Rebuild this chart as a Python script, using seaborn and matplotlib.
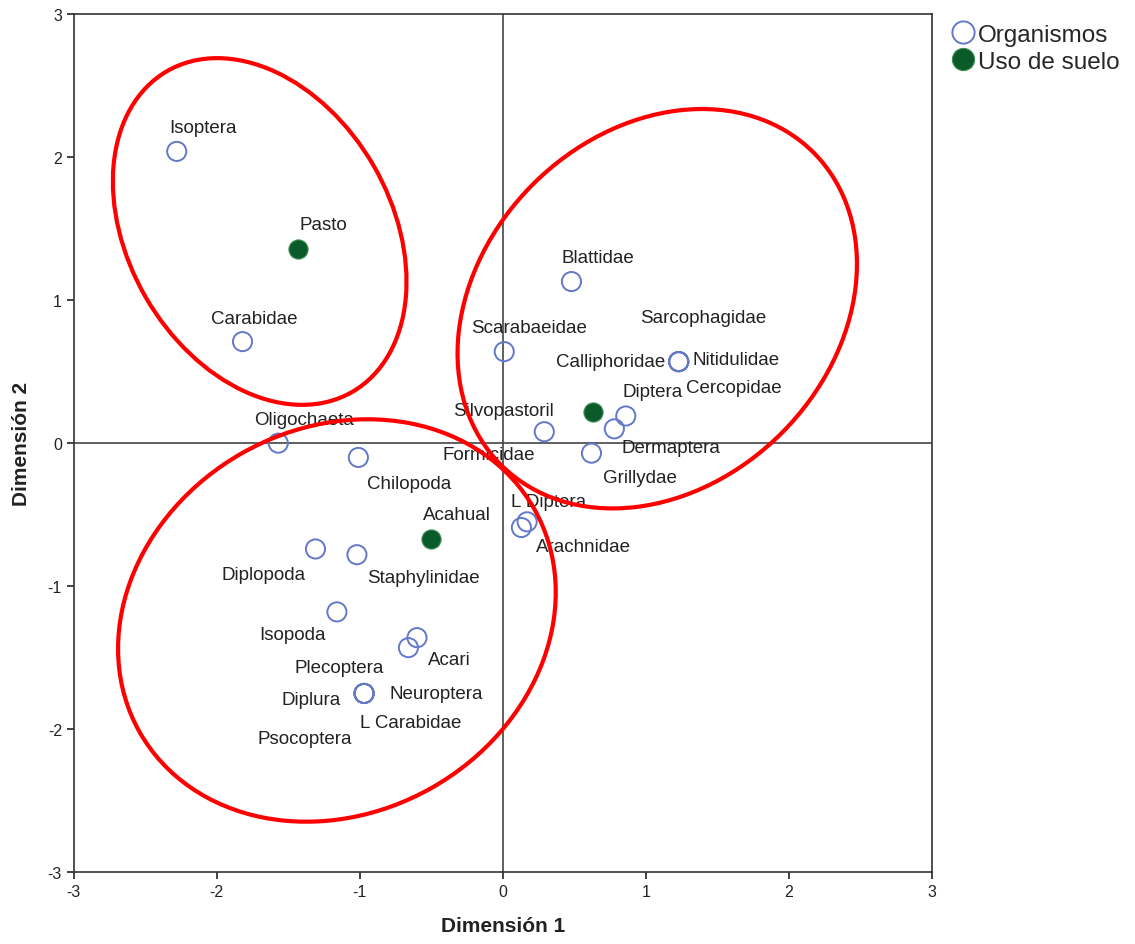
import pandas as pd
import seaborn as sns
import matplotlib.pyplot as plt
from matplotlib.patches import Ellipse
from matplotlib.lines import Line2D

org_names = ['Isoptera', 'Carabidae', 'Oligochaeta', 'Chilopoda', 'Diplopoda', 'Staphylinidae',
             'Isopoda', 'Acari', 'Plecoptera', 'Diplura', 'Neuroptera', 'L Carabidae', 'Psocoptera',
             'Scarabaeidae', 'Blattidae', 'Sarcophagidae', 'Calliphoridae', 'Nitidulidae', 'Cercopidae',
             'Diptera', 'Dermaptera', 'Formicidae', 'Grillydae', 'L Diptera', 'Arachnidae']
org_x = [-2.28, -1.82, -1.57, -1.01, -1.31, -1.02, -1.16, -0.60, -0.66, -0.97, -0.97, -0.97, -0.97,
         0.01, 0.48, 1.23, 1.23, 1.23, 1.23, 0.86, 0.78, 0.29, 0.62, 0.17, 0.13]
org_y = [2.04, 0.71, 0.00, -0.10, -0.74, -0.78, -1.18, -1.36, -1.43, -1.75, -1.75, -1.75, -1.75,
         0.64, 1.13, 0.57, 0.57, 0.57, 0.57, 0.19, 0.10, 0.08, -0.07, -0.55, -0.59]
# label offsets in pixels (dx, dy) relative to the point
org_off = [(26, 24), (12, 23), (26, 24), (51, -26), (-52, -26), (66, -23),
           (-44, -23), (32, -22), (-69, -20), (-53, -6), (72, 0), (47, -29), (-59, -45),
           (25, 24), (26, 24), (25, 44), (-68, 0), (57, 2), (55, -26),
           (27, 24), (57, -19), (-56, -23), (48, -24), (21, 20), (62, -19)]

uso_names = ['Pasto', 'Silvopastoril', 'Acahual']
uso_x = [-1.43, 0.63, -0.50]
uso_y = [1.36, 0.22, -0.67]
uso_off = [(25, 24), (-89, 1), (26, 24)]

# ellipses: center x, center y, width, height, angle
ell_cx = [-1.70, 1.08, -1.16]
ell_cy = [1.48, 0.94, -1.24]
ell_w = [2.59, 3.09, 3.17]
ell_h = [1.84, 2.46, 2.69]
ell_ang = [-60, 45, 29.5]

org = pd.DataFrame({'x': org_x, 'y': org_y, 'name': org_names})
uso = pd.DataFrame({'x': uso_x, 'y': uso_y, 'name': uso_names})

sns.set_style('ticks')
plt.rcParams['font.family'] = ['Liberation Sans', 'DejaVu Sans']
plt.rcParams['axes.unicode_minus'] = False

fig = plt.figure(figsize=(11.35, 9.45), dpi=100)
ax = fig.add_axes([0.065, 0.076, 0.756, 0.908])

blue = '#6478c8'
green = '#0b5a2a'

ax.axhline(0, color='#444444', lw=1.2, zorder=1)
ax.axvline(0, color='#444444', lw=1.2, zorder=1)

sns.scatterplot(data=org, x='x', y='y', ax=ax, marker='o', s=190, facecolor='none',
                edgecolor=blue, linewidth=1.4, zorder=3, legend=False)
sns.scatterplot(data=uso, x='x', y='y', ax=ax, marker='o', s=190, color=green,
                edgecolor='#3f8f55', linewidth=0.8, zorder=4, legend=False)

for df, offs in ((org, org_off), (uso, uso_off)):
    for (_, r), (dx, dy) in zip(df.iterrows(), offs):
        ax.annotate(r['name'], (r['x'], r['y']), xytext=(dx * 0.72, dy * 0.72),
                    textcoords='offset points', ha='center', va='center',
                    fontsize=13.5, color='#222222', zorder=5)

for cx, cy, w, h, a in zip(ell_cx, ell_cy, ell_w, ell_h, ell_ang):
    ax.add_patch(Ellipse((cx, cy), w, h, angle=a, fill=False, edgecolor='#ff0000', lw=3, zorder=6))

ax.set_xlim(-3, 3)
ax.set_ylim(-3, 3)
ax.set_xticks(range(-3, 4))
ax.set_yticks(range(-3, 4))
ax.tick_params(direction='out', length=5, width=1.2, labelsize=11.5, colors='#222222')
for sp in ax.spines.values():
    sp.set_visible(True)
    sp.set_color('#333333')
    sp.set_linewidth(1.2)
ax.set_xlabel('Dimensión 1', fontsize=15, fontweight='bold', color='#222222', labelpad=12)
ax.set_ylabel('Dimensión 2', fontsize=15, fontweight='bold', color='#222222', labelpad=12)

handles = [Line2D([], [], marker='o', ls='none', markersize=16, markerfacecolor='none',
                  markeredgecolor=blue, markeredgewidth=1.4),
           Line2D([], [], marker='o', ls='none', markersize=16, markerfacecolor=green,
                  markeredgecolor='#3f8f55', markeredgewidth=0.8)]
ax.legend(handles, ['Organismos', 'Uso de suelo'], loc='upper left', bbox_to_anchor=(1.008, 1.0),
          frameon=False, fontsize=17.5, handletextpad=0.0, borderaxespad=0.0, labelspacing=0.2,
          handlelength=1.2)

fig.savefig('out.png', dpi=100)
